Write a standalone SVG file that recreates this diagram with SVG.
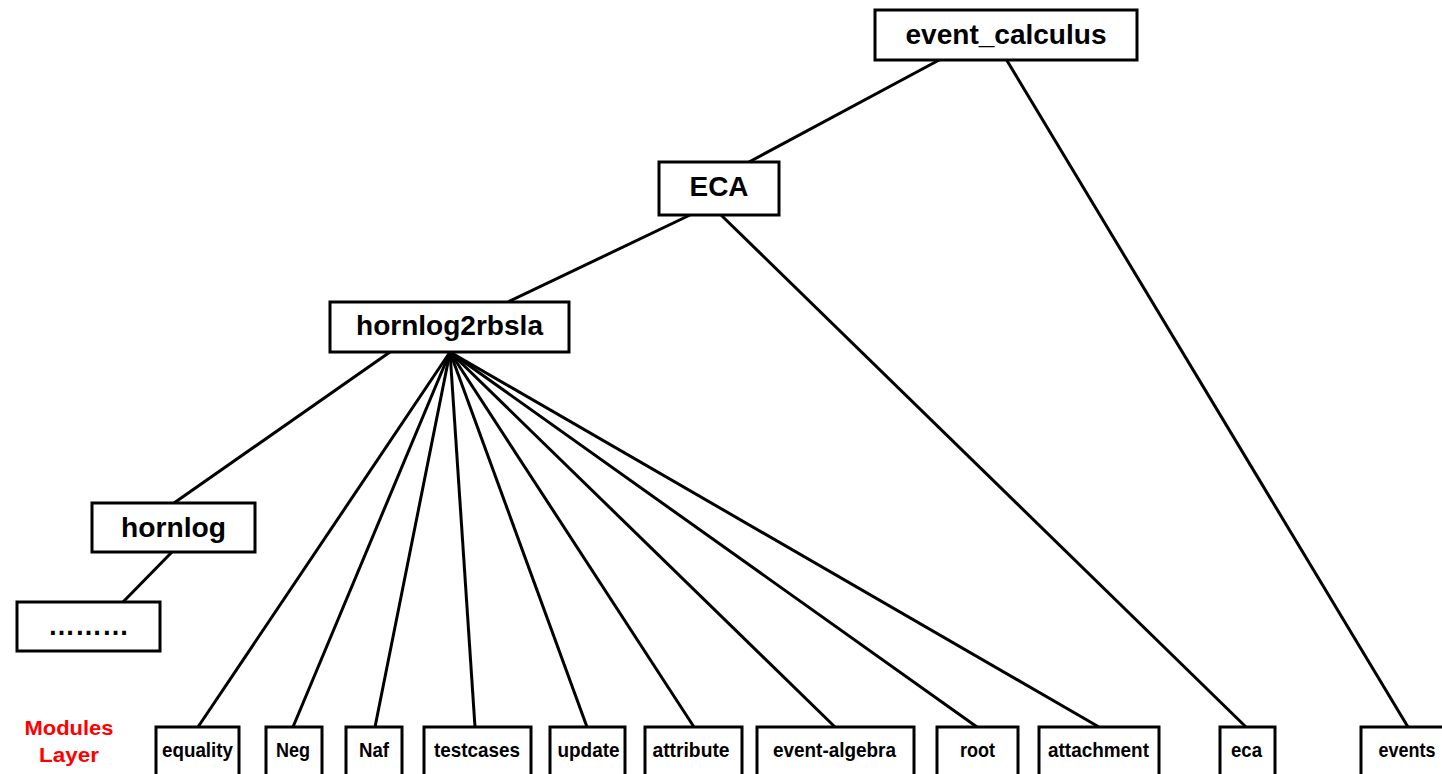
<svg xmlns="http://www.w3.org/2000/svg" width="1442" height="774" viewBox="0 0 1442 774">
<style>
.box{fill:#fff;stroke:#000;stroke-width:3}
.big{font-family:"Liberation Sans",Arial,sans-serif;font-weight:bold;font-size:27px;text-anchor:middle;fill:#000}
.sm{font-family:"Liberation Sans",Arial,sans-serif;font-weight:bold;font-size:21px;text-anchor:middle;fill:#000}
.lay{font-family:"Liberation Sans",Arial,sans-serif;font-weight:bold;font-size:21px;text-anchor:middle;fill:#FF0000}
.c{stroke:#000;stroke-width:3;fill:none}
</style>
<rect width="1442" height="774" fill="#fff"/>
<g id="connectors">
<line class="c" x1="941" y1="59" x2="749" y2="162"/>
<line class="c" x1="1006" y1="59" x2="1408" y2="727"/>
<line class="c" x1="690" y1="215" x2="508" y2="302"/>
<line class="c" x1="721" y1="215" x2="1246" y2="727"/>
<line class="c" x1="390" y1="352" x2="174" y2="503"/>
<line class="c" x1="172" y1="552" x2="123" y2="602"/>
<line class="c" x1="450" y1="352" x2="198" y2="727"/>
<line class="c" x1="450" y1="352" x2="293" y2="727"/>
<line class="c" x1="450" y1="352" x2="375" y2="727"/>
<line class="c" x1="450" y1="352" x2="475" y2="727"/>
<line class="c" x1="450" y1="352" x2="587" y2="727"/>
<line class="c" x1="450" y1="352" x2="694" y2="727"/>
<line class="c" x1="450" y1="352" x2="835" y2="727"/>
<line class="c" x1="450" y1="352" x2="977" y2="727"/>
<line class="c" x1="450" y1="352" x2="1099" y2="727"/>
</g>
<g id="event_calculus"><rect class="box" x="875" y="10" width="262" height="50"/><text class="big" x="1006" y="44" textLength="201" lengthAdjust="spacingAndGlyphs">event_calculus</text></g>
<g id="ECA"><rect class="box" x="659" y="162" width="120" height="53"/><text class="big" x="719" y="196" textLength="59" lengthAdjust="spacingAndGlyphs">ECA</text></g>
<g id="hornlog2rbsla"><rect class="box" x="330" y="302" width="239" height="50"/><text class="big" x="449.5" y="335" textLength="187" lengthAdjust="spacingAndGlyphs">hornlog2rbsla</text></g>
<g id="hornlog"><rect class="box" x="92" y="503" width="163" height="49"/><text class="big" x="173.5" y="537" textLength="105" lengthAdjust="spacingAndGlyphs">hornlog</text></g>
<g id="dots"><rect class="box" x="17" y="602" width="143" height="49"/><text class="big" x="88.5" y="635">………</text></g>
<g id="layer-label"><text class="lay" x="69" y="735" textLength="89" lengthAdjust="spacingAndGlyphs">Modules</text><text class="lay" x="69" y="762" textLength="60" lengthAdjust="spacingAndGlyphs">Layer</text></g>
<g id="equality"><rect class="box" x="156" y="727" width="83" height="60"/><text class="sm" x="197.5" y="757" textLength="71" lengthAdjust="spacingAndGlyphs">equality</text></g>
<g id="Neg"><rect class="box" x="266" y="727" width="56" height="60"/><text class="sm" x="293" y="757" textLength="34" lengthAdjust="spacingAndGlyphs">Neg</text></g>
<g id="Naf"><rect class="box" x="346" y="727" width="56" height="60"/><text class="sm" x="374" y="757" textLength="30" lengthAdjust="spacingAndGlyphs">Naf</text></g>
<g id="testcases"><rect class="box" x="424" y="727" width="107" height="60"/><text class="sm" x="477" y="757" textLength="86" lengthAdjust="spacingAndGlyphs">testcases</text></g>
<g id="update"><rect class="box" x="550" y="727" width="75" height="60"/><text class="sm" x="588.5" y="757" textLength="62" lengthAdjust="spacingAndGlyphs">update</text></g>
<g id="attribute"><rect class="box" x="645" y="727" width="97" height="60"/><text class="sm" x="691" y="757" textLength="77" lengthAdjust="spacingAndGlyphs">attribute</text></g>
<g id="event-algebra"><rect class="box" x="757" y="727" width="157" height="60"/><text class="sm" x="834.5" y="757" textLength="123" lengthAdjust="spacingAndGlyphs">event-algebra</text></g>
<g id="root"><rect class="box" x="937" y="727" width="81" height="60"/><text class="sm" x="977.5" y="757" textLength="35" lengthAdjust="spacingAndGlyphs">root</text></g>
<g id="attachment"><rect class="box" x="1039" y="727" width="120" height="60"/><text class="sm" x="1098.5" y="757" textLength="101" lengthAdjust="spacingAndGlyphs">attachment</text></g>
<g id="eca"><rect class="box" x="1220" y="727" width="55" height="60"/><text class="sm" x="1246.5" y="757" textLength="31" lengthAdjust="spacingAndGlyphs">eca</text></g>
<g id="events"><rect class="box" x="1361" y="727" width="95" height="60"/><text class="sm" x="1407" y="757" textLength="57" lengthAdjust="spacingAndGlyphs">events</text></g>
</svg>
